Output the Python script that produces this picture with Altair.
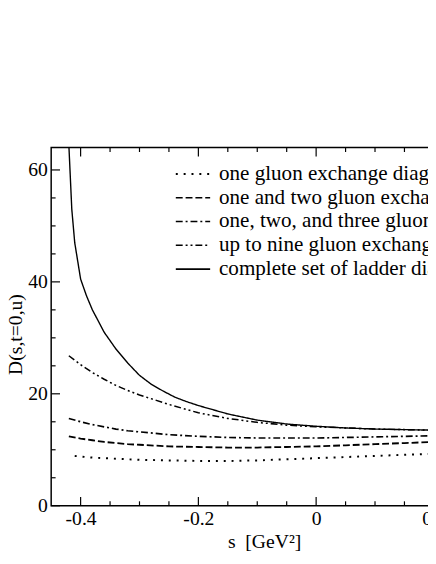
import altair as alt
import pandas as pd

# ---------------- data ----------------
series_names = [
    "one gluon exchange diagrams",
    "one and two gluon exchange diagrams",
    "one, two, and three gluon exchange diagrams",
    "up to nine gluon exchange diagrams",
    "complete set of ladder diagrams",
]

common_s = [-0.42, -0.40, -0.38, -0.36, -0.34, -0.32, -0.30, -0.25, -0.20,
            -0.15, -0.10, -0.05, 0.0, 0.05, 0.10, 0.15, 0.20, 0.25]
one_s = [-0.41, -0.40, -0.38, -0.36, -0.34, -0.32, -0.30, -0.25, -0.20,
         -0.15, -0.10, -0.05, 0.0, 0.05, 0.10, 0.15, 0.20, 0.25]
one_D = [8.9, 8.8, 8.6, 8.5, 8.4, 8.3, 8.2, 8.1, 8.0,
         8.0, 8.1, 8.3, 8.5, 8.7, 8.9, 9.1, 9.3, 9.5]
two_D = [12.4, 12.0, 11.7, 11.4, 11.2, 11.0, 10.9, 10.6, 10.5,
         10.4, 10.4, 10.5, 10.6, 10.8, 11.0, 11.2, 11.4, 11.6]
three_D = [15.6, 15.0, 14.5, 14.1, 13.7, 13.4, 13.2, 12.7, 12.4,
           12.2, 12.1, 12.1, 12.1, 12.2, 12.3, 12.4, 12.5, 12.6]
nine_D = [26.8, 25.2, 23.8, 22.6, 21.5, 20.6, 19.8, 18.1, 16.6,
          15.6, 14.9, 14.4, 14.1, 13.9, 13.7, 13.6, 13.5, 13.4]
full_s = [-0.424, -0.42, -0.415, -0.41, -0.40, -0.39, -0.38, -0.37, -0.36,
          -0.35, -0.34, -0.32, -0.30, -0.28, -0.26, -0.24, -0.22, -0.20,
          -0.15, -0.10, -0.05, 0.0, 0.05, 0.10, 0.15, 0.20, 0.25]
full_D = [72, 64.5, 53, 47, 40.5, 37.5, 35, 33, 31,
          29.5, 28, 25.5, 23.3, 21.7, 20.5, 19.4, 18.6, 17.9,
          16.4, 15.3, 14.6, 14.2, 13.9, 13.7, 13.6, 13.5, 13.4]

x_major = [-0.4, -0.2, 0.0, 0.2]
x_minor = [-0.35, -0.3, -0.25, -0.15, -0.1, -0.05, 0.05, 0.1, 0.15, 0.25]
y_major = [0, 20, 40, 60]
y_minor = [5, 10, 15, 25, 30, 35, 45, 50, 55]

# ---------------- build tables ----------------
rows = []
for name, xs_, ys_ in [
    (series_names[0], one_s, one_D),
    (series_names[1], common_s, two_D),
    (series_names[2], common_s, three_D),
    (series_names[3], common_s, nine_D),
    (series_names[4], full_s, full_D),
]:
    for i, (a, b) in enumerate(zip(xs_, ys_)):
        rows.append({"series": name, "s": a, "D": b, "order": i})
df = pd.DataFrame(rows)

W, H = 420, 365
XDOM = [-0.45, 0.25]
YDOM = [0, 64]
FONT = "Liberation Serif"

dashes = [[2, 6], [7, 3], [7, 3, 2, 3], [7, 3, 2, 3, 2, 3], [1, 0]]
widths = [2.0, 1.4, 1.4, 1.4, 1.8]
xs = alt.Scale(domain=XDOM, nice=False, zero=False)
ys = alt.Scale(domain=YDOM, nice=False, zero=False)
dash_scale = alt.Scale(domain=series_names, range=dashes)
width_scale = alt.Scale(domain=series_names, range=widths)

x_axis = alt.Axis(values=x_major, labelExpr="toString(datum.value)",
                  ticks=False, tickSize=0, domain=False, grid=False,
                  labelFont=FONT, labelFontSize=20, labelColor="black",
                  labelPadding=3, labelFlush=False,
                  title="s\u00a0\u00a0[GeV²]", titleFont=FONT, titleFontSize=20,
                  titleFontWeight="normal", titleColor="black",
                  titleX=217, titleY=43, titleBaseline="alphabetic")
y_axis = alt.Axis(values=y_major, labelExpr="toString(datum.value)",
                  ticks=False, tickSize=0, domain=False, grid=False,
                  labelFont=FONT, labelFontSize=20, labelColor="black",
                  labelPadding=4, labelFlush=False,
                  title="D(s,t=0,u)", titleFont=FONT, titleFontSize=20,
                  titleFontWeight="normal", titleColor="black",
                  titleX=-36, titleY=190, titleAngle=270,
                  titleAlign="center", titleBaseline="middle")

lines = alt.Chart(df).mark_line(color="black", clip=True, strokeCap="butt").encode(
    x=alt.X("s:Q", scale=xs, axis=x_axis),
    y=alt.Y("D:Q", scale=ys, axis=y_axis),
    strokeDash=alt.StrokeDash("series:N", scale=dash_scale, legend=None),
    strokeWidth=alt.StrokeWidth("series:N", scale=width_scale, legend=None),
    detail="series:N",
    order="order:Q",
)

def xticks(vals, length, top):
    d = pd.DataFrame({"s": vals})
    if top:
        yy, yy2 = alt.value(0), alt.value(length)
    else:
        yy, yy2 = alt.value(H), alt.value(H - length)
    return alt.Chart(d).mark_rule(color="black", strokeWidth=1.2).encode(
        x=alt.X("s:Q", scale=xs, axis=x_axis), y=yy, y2=yy2)

def yticks(vals, length):
    d = pd.DataFrame({"D": vals})
    return alt.Chart(d).mark_rule(color="black", strokeWidth=1.2).encode(
        y=alt.Y("D:Q", scale=ys, axis=y_axis), x=alt.value(0), x2=alt.value(length))

ticks = [xticks(x_major, 9, False), xticks(x_minor, 4.5, False),
         xticks(x_major, 9, True), xticks(x_minor, 4.5, True),
         yticks(y_major, 9), yticks(y_minor, 4.5)]

legend_layers = []
for i, name in enumerate(series_names):
    d = pd.DataFrame({"series": [name]})
    ypos = 27 + i * 24.2
    legend_layers.append(
        alt.Chart(d).mark_rule(color="black", strokeCap="butt",
                               strokeDash=dashes[i], strokeWidth=widths[i]).encode(
            x=alt.value(127), x2=alt.value(162), y=alt.value(ypos)))
    legend_layers.append(
        alt.Chart(d).mark_text(align="left", baseline="middle", font=FONT,
                               fontSize=21.5, color="black").encode(
            x=alt.value(171), y=alt.value(ypos), text="series:N"))

chart = alt.layer(lines, *ticks, *legend_layers).properties(
    width=W, height=H,
    autosize=alt.AutoSizeParams(type="none"),
    padding={"left": 44, "top": 137, "right": -36, "bottom": 46},
    background="white",
).configure_view(stroke="black", strokeWidth=1.5)

chart.save("out.html", embed_options={"renderer": "svg", "actions": False})
